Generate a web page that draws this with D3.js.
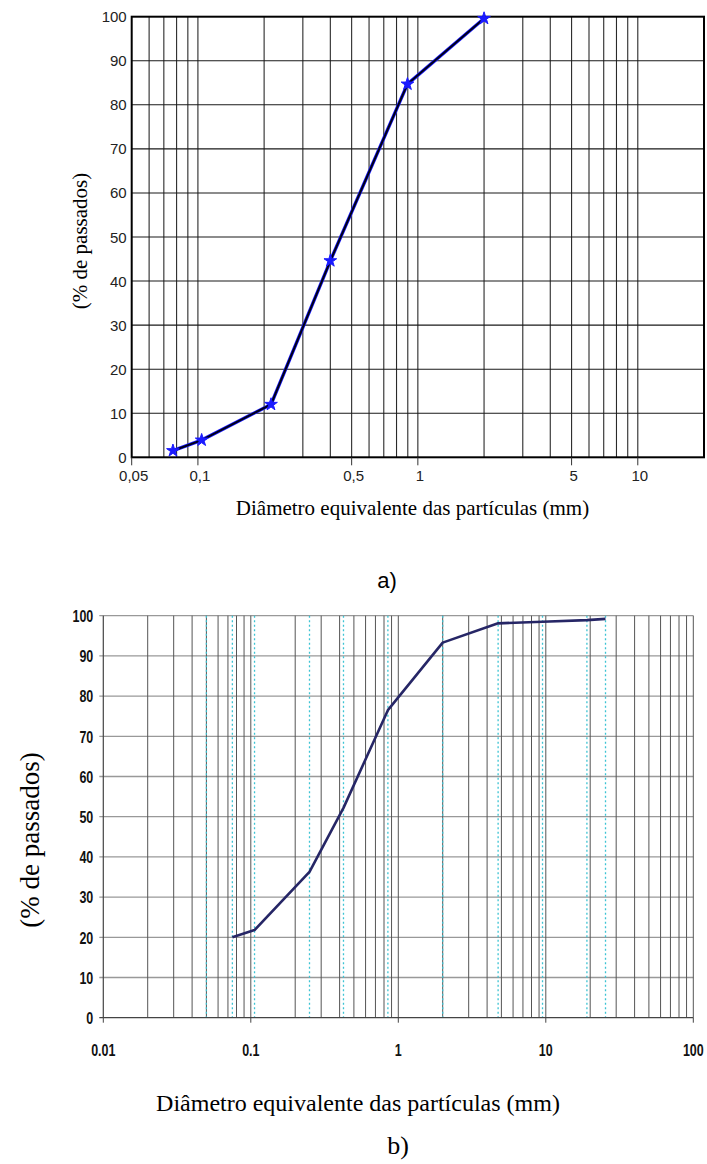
<!DOCTYPE html>
<html>
<head>
<meta charset="utf-8">
<script src="https://cdn.jsdelivr.net/npm/d3@7"></script>
<style>
  body { margin: 0; background: #fff; }
</style>
</head>
<body>
<svg id="chart"></svg>
<script>
// chart a) - grain size curve, comma decimals
var sizesA   = [0.077, 0.104, 0.215, 0.40, 0.897, 2.0];
var passA    = [1.5, 3.9, 12.0, 44.6, 84.7, 99.6];
var xTicksA  = [0.05, 0.1, 0.5, 1, 5, 10];
var xLabelsA = ["0,05", "0,1", "0,5", "1", "5", "10"];

// chart b) - grain size curve with sieve openings
var sizesB   = [0.075, 0.106, 0.25, 0.425, 0.85, 2.0, 4.75, 9.5, 19.0, 25.4];
var passB    = [20.0, 21.8, 36.3, 52.2, 76.5, 93.3, 98.1, 98.5, 98.9, 99.2];
var sievesB  = [0.05, 0.075, 0.106, 0.25, 0.425, 0.85, 2.0, 4.75, 9.5, 19.0, 25.4];
var xTicksB  = [0.01, 0.1, 1, 10, 100];
var xLabelsB = ["0.01", "0.1", "1", "10", "100"];

var yTicks = [0, 10, 20, 30, 40, 50, 60, 70, 80, 90, 100];
var yTitle = "(% de passados)";
var xTitle = "Diâmetro equivalente das partículas (mm)";

var width = 707, height = 1164;
var svg = d3.select("#chart").attr("width", width).attr("height", height);

var serif  = "'Liberation Serif', 'Times New Roman', serif";
var sans   = "'Liberation Sans', Arial, sans-serif";

function inner(d, dom) {
  // grid values strictly inside the domain
  return d > dom[0] * 1.0001 && d < dom[1] * 0.9999;
}

/* ---------------- chart a) ---------------- */
var A = { left: 131.7, right: 704, top: 16.7, bottom: 457.3 };
var xA = d3.scaleLog().domain([0.05, 20]).range([A.left, A.right]);
var yA = d3.scaleLinear().domain([0, 100]).range([A.bottom, A.top]);

var gA = svg.append("g").attr("class", "chart-a");

// vertical grid (only up to 10, nothing between 10 and 20)
gA.append("g")
  .selectAll("line")
  .data(xA.ticks().filter(function (d) { return inner(d, xA.domain()) && d <= 10.0001; }))
  .enter().append("line")
    .attr("x1", function (d) { return xA(d); })
    .attr("x2", function (d) { return xA(d); })
    .attr("y1", A.top).attr("y2", A.bottom)
    .attr("stroke", "#2a2a2a").attr("stroke-width", 1.1);

// horizontal grid
gA.append("g")
  .selectAll("line")
  .data(yTicks.slice(1, -1))
  .enter().append("line")
    .attr("x1", A.left).attr("x2", A.right)
    .attr("y1", function (d) { return yA(d); })
    .attr("y2", function (d) { return yA(d); })
    .attr("stroke", "#1a1a1a").attr("stroke-width", 1.1);

gA.append("rect")
  .attr("x", A.left).attr("y", A.top)
  .attr("width", A.right - A.left).attr("height", A.bottom - A.top)
  .attr("fill", "none").attr("stroke", "#000").attr("stroke-width", 2);

// x ticks and labels
gA.append("g")
  .selectAll("line")
  .data(xTicksA)
  .enter().append("line")
    .attr("x1", function (d) { return xA(d); })
    .attr("x2", function (d) { return xA(d); })
    .attr("y1", A.bottom).attr("y2", A.bottom + 8)
    .attr("stroke", "#333").attr("stroke-width", 1);

gA.append("g")
  .selectAll("text")
  .data(xTicksA)
  .enter().append("text")
    .attr("x", function (d) { return xA(d) + 2; })
    .attr("y", A.bottom + 18)
    .attr("text-anchor", "middle")
    .attr("dominant-baseline", "central")
    .attr("font-family", sans).attr("font-size", 15).attr("fill", "#222")
    .text(function (d, i) { return xLabelsA[i]; });

gA.append("g")
  .selectAll("text")
  .data(yTicks)
  .enter().append("text")
    .attr("x", A.left - 5)
    .attr("y", function (d) { return yA(d); })
    .attr("text-anchor", "end")
    .attr("dominant-baseline", "central")
    .attr("font-family", sans).attr("font-size", 15).attr("fill", "#222")
    .text(function (d) { return d; });

// curve: blue halo with dark core
var lineA = d3.line()
  .x(function (d, i) { return xA(sizesA[i]); })
  .y(function (d) { return yA(d); });

gA.append("path").datum(passA)
  .attr("d", lineA).attr("fill", "none")
  .attr("stroke", "#1a1aff").attr("stroke-width", 3.4);
gA.append("path").datum(passA)
  .attr("d", lineA).attr("fill", "none")
  .attr("stroke", "#000018").attr("stroke-width", 2);

gA.append("g")
  .selectAll("path")
  .data(passA)
  .enter().append("path")
    .attr("transform", function (d, i) { return "translate(" + xA(sizesA[i]) + "," + yA(d) + ")"; })
    .attr("d", d3.symbol().type(d3.symbolStar).size(50))
    .attr("fill", "#1a1aff")
    .attr("stroke", "#1a1aff").attr("stroke-width", 1);

gA.append("text")
  .attr("transform", "translate(80,241) rotate(-90)")
  .attr("text-anchor", "middle").attr("dominant-baseline", "central")
  .attr("font-family", serif).attr("font-size", 21).attr("fill", "#000")
  .text(yTitle);

gA.append("text")
  .attr("x", 412.5).attr("y", 508)
  .attr("text-anchor", "middle").attr("dominant-baseline", "central")
  .attr("font-family", serif).attr("font-size", 21).attr("fill", "#000")
  .text(xTitle);

gA.append("text")
  .attr("x", 387).attr("y", 580)
  .attr("text-anchor", "middle").attr("dominant-baseline", "central")
  .attr("font-family", sans).attr("font-size", 22).attr("fill", "#000")
  .text("a)");

/* ---------------- chart b) ---------------- */
var B = { left: 103.3, right: 693.3, top: 615.7, bottom: 1017.7 };
var xB = d3.scaleLog().domain([0.01, 100]).range([B.left, B.right]);
var yB = d3.scaleLinear().domain([0, 100]).range([B.bottom, B.top]);

var gB = svg.append("g").attr("class", "chart-b");

// horizontal grid (light) incl. top border
gB.append("g")
  .selectAll("line")
  .data(yTicks.slice(1))
  .enter().append("line")
    .attr("x1", B.left - 4).attr("x2", B.right)
    .attr("y1", function (d) { return yB(d); })
    .attr("y2", function (d) { return yB(d); })
    .attr("stroke", "#999").attr("stroke-width", 1.3);

// vertical log grid incl. right border
gB.append("g")
  .selectAll("line")
  .data(xB.ticks().filter(function (d) { return d > 0.0100001; }))
  .enter().append("line")
    .attr("x1", function (d) { return xB(d); })
    .attr("x2", function (d) { return xB(d); })
    .attr("y1", B.top).attr("y2", B.bottom)
    .attr("stroke", "#555").attr("stroke-width", 1);

// sieve openings, dotted cyan
gB.append("g")
  .selectAll("line")
  .data(sievesB)
  .enter().append("line")
    .attr("x1", function (d) { return xB(d); })
    .attr("x2", function (d) { return xB(d); })
    .attr("y1", B.top).attr("y2", B.bottom)
    .attr("stroke", "#3cc3d3").attr("stroke-width", 1.3)
    .attr("stroke-dasharray", "2,2.5");

// axes lines
gB.append("line")
  .attr("x1", B.left).attr("x2", B.left)
  .attr("y1", B.top).attr("y2", B.bottom)
  .attr("stroke", "#444").attr("stroke-width", 1.2);
gB.append("line")
  .attr("x1", B.left - 4).attr("x2", B.right)
  .attr("y1", B.bottom).attr("y2", B.bottom)
  .attr("stroke", "#444").attr("stroke-width", 1.3);

gB.append("g")
  .selectAll("line")
  .data(xTicksB)
  .enter().append("line")
    .attr("x1", function (d) { return xB(d); })
    .attr("x2", function (d) { return xB(d); })
    .attr("y1", B.bottom).attr("y2", B.bottom + 5)
    .attr("stroke", "#444").attr("stroke-width", 1);

// narrow bold labels: squeeze the glyphs horizontally
gB.append("g")
  .selectAll("text")
  .data(xTicksB)
  .enter().append("text")
    .attr("transform", function (d) { return "translate(" + xB(d) + "," + (B.bottom + 32) + ") scale(0.78,1.08)"; })
    .attr("text-anchor", "middle")
    .attr("dominant-baseline", "central")
    .attr("font-family", sans).attr("font-weight", "bold")
    .attr("font-size", 16).attr("fill", "#111")
    .text(function (d, i) { return xLabelsB[i]; });

gB.append("g")
  .selectAll("text")
  .data(yTicks)
  .enter().append("text")
    .attr("transform", function (d) { return "translate(" + (B.left - 10) + "," + yB(d) + ") scale(0.78,1.08)"; })
    .attr("text-anchor", "end")
    .attr("dominant-baseline", "central")
    .attr("font-family", sans).attr("font-weight", "bold")
    .attr("font-size", 16).attr("fill", "#111")
    .text(function (d) { return d; });

var lineB = d3.line()
  .x(function (d, i) { return xB(sizesB[i]); })
  .y(function (d) { return yB(d); });

gB.append("path").datum(passB)
  .attr("d", lineB).attr("fill", "none")
  .attr("stroke", "#262666").attr("stroke-width", 2.6)
  .attr("stroke-linejoin", "round");

gB.append("text")
  .attr("transform", "translate(30,840) rotate(-90)")
  .attr("text-anchor", "middle").attr("dominant-baseline", "central")
  .attr("font-family", serif).attr("font-size", 27).attr("fill", "#000")
  .text(yTitle);

gB.append("text")
  .attr("x", 358).attr("y", 1103)
  .attr("text-anchor", "middle").attr("dominant-baseline", "central")
  .attr("font-family", serif).attr("font-size", 24).attr("fill", "#000")
  .text(xTitle);

gB.append("text")
  .attr("x", 398).attr("y", 1145)
  .attr("text-anchor", "middle").attr("dominant-baseline", "central")
  .attr("font-family", serif).attr("font-size", 26).attr("fill", "#000")
  .text("b)");
</script>
</body>
</html>
